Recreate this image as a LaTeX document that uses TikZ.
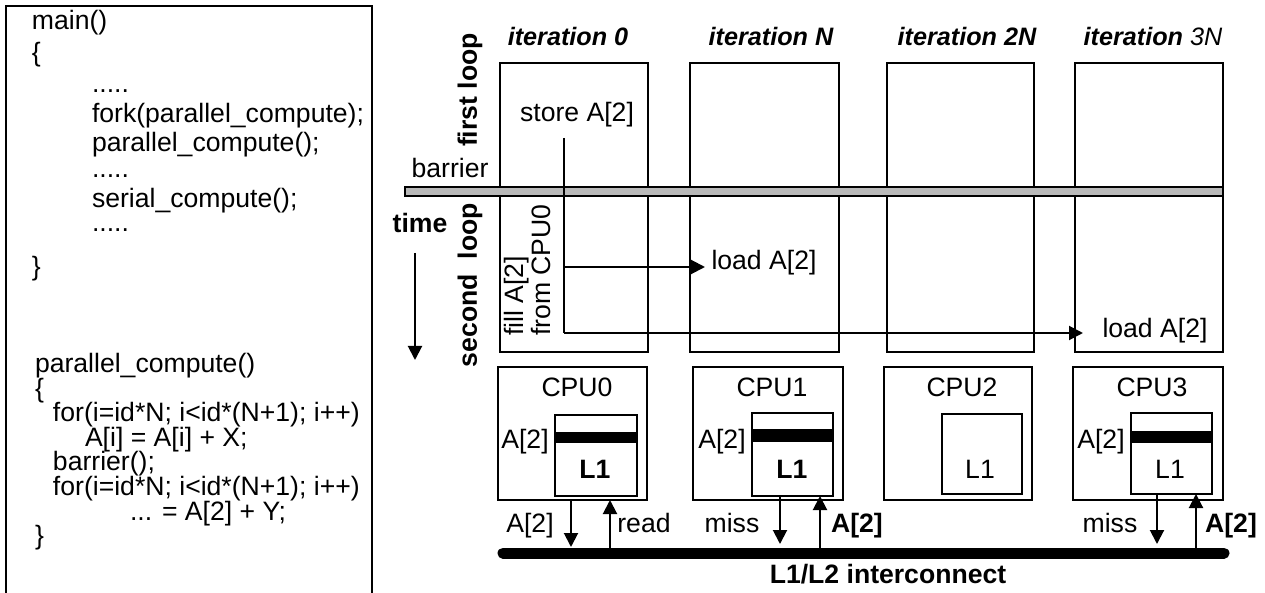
\documentclass[tikz,border=0pt]{standalone}
\usepackage{fontspec}
\setmainfont{Liberation Sans}
\usetikzlibrary{arrows.meta,fit}
\begin{document}
\begin{tikzpicture}[x=0.5pt,y=-0.5pt,
  txt/.style={font=\fontsize{13.3}{15}\selectfont, inner sep=0pt, outer sep=0pt},
  code/.style={txt, anchor=base west},
  lbl/.style={txt, anchor=base},
  bl/.style={lbl, font=\fontsize{13.3}{15}\selectfont\bfseries},
  itl/.style={lbl, font=\fontsize{12.6}{15}\selectfont\bfseries\itshape},
  frame/.style={draw, line width=1pt, inner sep=0pt, outer sep=0pt},
  thinframe/.style={draw, line width=0.8pt, inner sep=0pt, outer sep=0pt},
  band/.style={fill=black, draw=none, inner sep=0pt, outer sep=0pt},
  arr/.style={line width=1pt, -{Triangle[length=7pt,width=7pt]}},
  vlbl/.style={txt, rotate=90, font=\fontsize{13.3}{15}\selectfont\bfseries}
]
\useasboundingbox (0,0) rectangle (1265,593);

% ---------- code box ----------
\node[thinframe, fit={(6,6) (372,640)}] (codebox) {};
\node[code] (c1) at (32,30) {main()};
\node[code] (c2) at (32,62) {\{};
\node[code] (c3) at (92,93) {.....};
\node[code] (c4) at (92,123) {fork(parallel\_compute);};
\node[code] (c5) at (92,152) {parallel\_compute();};
\node[code] (c6) at (92,178) {.....};
\node[code] (c7) at (92,208) {serial\_compute();};
\node[code] (c8) at (92,232) {.....};
\node[code] (c9) at (32,276) {\}};

\node[code] (d1) at (35,373) {parallel\_compute()};
\node[code] (d2) at (35,397.5) {\{};
\node[code] (d3) at (53,422) {for(i=id*N; i<id*(N+1); i++)};
\node[code] (d4) at (85,446.5) {A[i] = A[i] + X;};
\node[code] (d5) at (53,471) {barrier();};
\node[code] (d6) at (53,495.5) {for(i=id*N; i<id*(N+1); i++)};
\node[code] (d7) at (130,520) {... = A[2] + Y;};
\node[code] (d8) at (35,545) {\}};

% ---------- iteration columns ----------
\node[itl] (i0) at (568,46) {iteration 0};
\node[itl] (iN) at (771,46) {iteration N};
\node[itl] (i2N) at (967,46) {iteration 2N};
\node[itl] (i3N) at (1153,46) {iteration \textmd{3N}};

\node[frame, fit={(500,63) (648,352)}] (it0) {};
\node[frame, fit={(690,63) (839,352)}] (itN) {};
\node[frame, fit={(887,63) (1034,352)}] (it2N) {};
\node[frame, fit={(1075,63) (1223,352)}] (it3N) {};

% barrier
\node[draw, line width=1.4pt, fill=gray!55, inner sep=0pt, outer sep=0pt, fit={(405,187) (1223,196)}] (bar) {};

% labels on the left of the columns
\node[vlbl] (fl) at (470,90) {first loop};
\node[vlbl] (sl) at (470,285) {second\ \ loop};
\node[lbl] (barrier) at (450,178) {barrier};
\node[bl] (time) at (420,233) {time};
\coordinate (t1) at (415,253);
\coordinate (t2) at (415,360);
\draw[arr] (t1) -- (t2);

% store / load
\node[lbl] (store) at (577,122) {store A[2]};
\node[txt, rotate=90, anchor=north west, align=left, font=\fontsize{13.3}{13.6}\selectfont] (fill) at (504,336) {fill A[2]\\from CPU0};
\coordinate (s0) at (564,138);
\coordinate (s1) at (564,267);
\coordinate (s2) at (564,333);
\coordinate (tip1) at (705,267);
\coordinate (tip2) at (1083,333);
\draw[line width=1pt] (s0) -- (s2);
\draw[arr] (s1) -- (tip1);
\draw[arr] (s2) -- (tip2);
\node[lbl] (load1) at (764,270) {load A[2]};
\node[lbl] (load2) at (1155,338) {load A[2]};

% ---------- CPUs ----------
\node[thinframe, fit={(498,367) (647,500)}] (cpu0) {};
\node[thinframe, fit={(693,367) (843,500)}] (cpu1) {};
\node[thinframe, fit={(884,367) (1032,500)}] (cpu2) {};
\node[thinframe, fit={(1073,367) (1223,500)}] (cpu3) {};
\node[lbl] (cpu0l) at (577,397) {CPU0};
\node[lbl] (cpu1l) at (772,397) {CPU1};
\node[lbl] (cpu2l) at (962,397) {CPU2};
\node[lbl] (cpu3l) at (1152,397) {CPU3};

\node[band, fit={(555,432) (637,443)}] (b0) {};
\node[band, fit={(752,429) (833,442)}] (b1) {};
\node[band, fit={(1131,431) (1212,443)}] (b3) {};
\node[frame, fit={(555,415) (637,496)}] (l0) {};
\node[frame, fit={(752,413) (833,496)}] (l1) {};
\node[frame, fit={(942,414) (1022,494)}] (l2) {};
\node[frame, fit={(1131,413) (1212,494)}] (l3) {};
\node[bl] (l0t) at (595,479) {L1};
\node[bl] (l1t) at (792,479) {L1};
\node[lbl] (l2t) at (980,479) {L1};
\node[lbl] (l3t) at (1170,479) {L1};
\node[lbl] (a0) at (525,449) {A[2]};
\node[lbl] (a1) at (722,449) {A[2]};
\node[lbl] (a3) at (1101,449) {A[2]};

% ---------- interconnect ----------
\coordinate (busl) at (503,553);
\coordinate (busr) at (1224,553);
\draw[line width=5.5pt, line cap=round] (busl) -- (busr);
\node[bl] (bus) at (888,583) {L1/L2 interconnect};

\coordinate (p0a) at (571,500); \coordinate (p0b) at (571,547);
\coordinate (p0c) at (610,548); \coordinate (p0d) at (610,500);
\draw[arr] (p0a) -- (p0b);
\draw[arr] (p0c) -- (p0d);
\coordinate (p1a) at (780,496); \coordinate (p1b) at (780,544);
\coordinate (p1c) at (820,548); \coordinate (p1d) at (820,496);
\draw[arr] (p1a) -- (p1b);
\draw[arr] (p1c) -- (p1d);
\coordinate (p3a) at (1157,494); \coordinate (p3b) at (1157,544);
\coordinate (p3c) at (1196,548); \coordinate (p3d) at (1196,494);
\draw[arr] (p3a) -- (p3b);
\draw[arr] (p3c) -- (p3d);

\node[lbl] (m0a) at (530,532) {A[2]};
\node[lbl] (m0r) at (644,532) {read};
\node[lbl] (m1m) at (732,532) {miss};
\node[bl] (m1a) at (857,532) {A[2]};
\node[lbl] (m3m) at (1110,532) {miss};
\node[bl] (m3a) at (1231,532) {A[2]};
\end{tikzpicture}
\end{document}
